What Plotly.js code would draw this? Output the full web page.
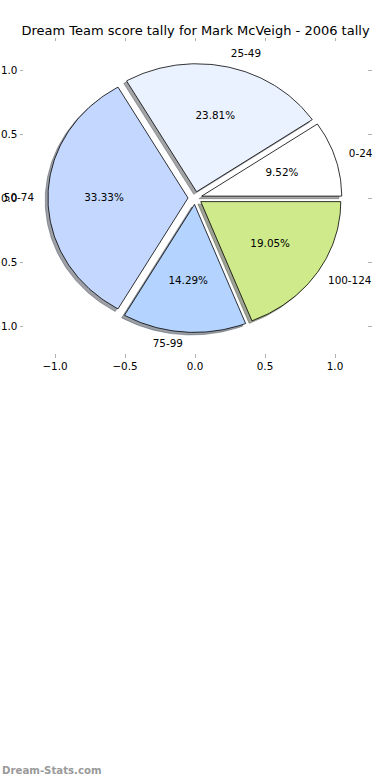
<!DOCTYPE html>
<html>
<head>
<meta charset="utf-8">
<script src="https://cdn.plot.ly/plotly-3.0.1.min.js"></script>
<style>
html,body{margin:0;padding:0;background:#fff;}
#chart{width:390px;height:780px;}
</style>
</head>
<body>
<div id="chart"></div>
<script>
// ---- data ----
const labels = ['0-24', '25-49', '50-74', '75-99', '100-124'];
const counts = [2, 5, 7, 3, 4];
const tickVals = [-1, -0.5, 0, 0.5, 1];
const tickText = ['\u22121.0', '\u22120.5', '0.0', '0.5', '1.0'];
const titleText = 'Dream Team score tally for Mark McVeigh - 2006 tally';
const watermark = 'Dream-Stats.com';

// ---- style ----
const sliceColors = ['#ffffff', '#ebf2ff', '#c4d8ff', '#b4d4ff', '#cfea8a'];
const explode = 0.05;
const shadowOff = -0.02;
const labelDist = 1.1;
const pctDist = 0.6;
const FONT = 'DejaVu Sans, sans-serif';

const total = counts.reduce((a, b) => a + b, 0);
const traces = [];
const shadowTraces = [];
const wedgeTraces = [];
const lblX = [], lblY = [], lblT = [], lblPos = [];
const pctX = [], pctY = [], pctT = [];

function hexToRgb(h) {
  const v = parseInt(h.slice(1), 16);
  return [(v >> 16) & 255, (v >> 8) & 255, v & 255];
}

let start = 0;
counts.forEach((c, i) => {
  const frac = c / total;
  const a1 = start * 360;
  const a2 = (start + frac) * 360;
  const mid = ((a1 + a2) / 2) * Math.PI / 180;
  const cx = explode * Math.cos(mid);
  const cy = explode * Math.sin(mid);
  const xs = [cx], ys = [cy];
  const n = Math.max(2, Math.ceil(a2 - a1));
  for (let k = 0; k <= n; k++) {
    const t = (a1 + (a2 - a1) * k / n) * Math.PI / 180;
    xs.push(cx + Math.cos(t));
    ys.push(cy + Math.sin(t));
  }
  xs.push(cx); ys.push(cy);

  const rgb = hexToRgb(sliceColors[i]).map(v => Math.round(v * 0.3));
  shadowTraces.push({
    type: 'scatter', mode: 'lines',
    x: xs.map(v => v + shadowOff), y: ys.map(v => v + shadowOff),
    fill: 'toself',
    fillcolor: `rgba(${rgb[0]},${rgb[1]},${rgb[2]},0.5)`,
    line: {width: 0.8, color: `rgba(${rgb[0]},${rgb[1]},${rgb[2]},0.5)`},
    hoverinfo: 'skip', showlegend: false
  });
  wedgeTraces.push({
    type: 'scatter', mode: 'lines',
    x: xs, y: ys,
    fill: 'toself', fillcolor: sliceColors[i],
    line: {width: 0.8, color: '#000'},
    hoverinfo: 'skip', showlegend: false
  });

  const lx = cx + labelDist * Math.cos(mid);
  const ly = cy + labelDist * Math.sin(mid);
  lblX.push(lx); lblY.push(ly); lblT.push(labels[i]);
  lblPos.push(lx > 0 ? 'middle right' : 'middle left');
  pctX.push(cx + pctDist * Math.cos(mid));
  pctY.push(cy + pctDist * Math.sin(mid));
  pctT.push((frac * 100).toFixed(2) + '%');
  start += frac;
});

traces.push(...shadowTraces, ...wedgeTraces);
traces.push({
  type: 'scatter', mode: 'text', x: lblX, y: lblY, text: lblT,
  textposition: lblPos, cliponaxis: false,
  textfont: {family: FONT, size: 10.4, color: '#000'},
  hoverinfo: 'skip', showlegend: false
});
traces.push({
  type: 'scatter', mode: 'text', x: pctX, y: pctY, text: pctT,
  textposition: 'middle center', cliponaxis: false,
  textfont: {family: FONT, size: 10.4, color: '#000'},
  hoverinfo: 'skip', showlegend: false
});

const axisCommon = {
  tickmode: 'array', tickvals: tickVals, ticktext: tickText,
  ticks: 'outside', ticklen: 3.5, tickwidth: 1, tickcolor: '#b0b0b0',
  mirror: 'ticks', showline: false, showgrid: false, zeroline: false,
  tickfont: {family: FONT, size: 10.4, color: '#000'},
  fixedrange: true
};

const layout = {
  width: 390, height: 780,
  paper_bgcolor: '#fff', plot_bgcolor: '#fff',
  margin: {l: 24, r: 23, t: 42, b: 427, pad: 0},
  showlegend: false,
  title: {
    text: titleText,
    font: {family: FONT, size: 13, color: '#000'},
    x: 0.5, xanchor: 'center', xref: 'paper',
    y: 1 - 30 / 780, yanchor: 'middle', yref: 'container'
  },
  xaxis: Object.assign({}, axisCommon, {range: [-1.2214, 1.2286]}),
  yaxis: Object.assign({}, axisCommon, {range: [-1.2109, 1.21875]}),
  annotations: [{
    text: watermark, xref: 'paper', yref: 'paper',
    x: 0, y: 0, xanchor: 'left', yanchor: 'middle',
    xshift: -24, yshift: -(770 - 353),
    showarrow: false,
    font: {family: FONT, size: 10.2, color: '#9a9a9a', weight: 'bold'}
  }]
};

Plotly.newPlot('chart', traces, layout, {staticPlot: true, displayModeBar: false});
</script>
</body>
</html>
